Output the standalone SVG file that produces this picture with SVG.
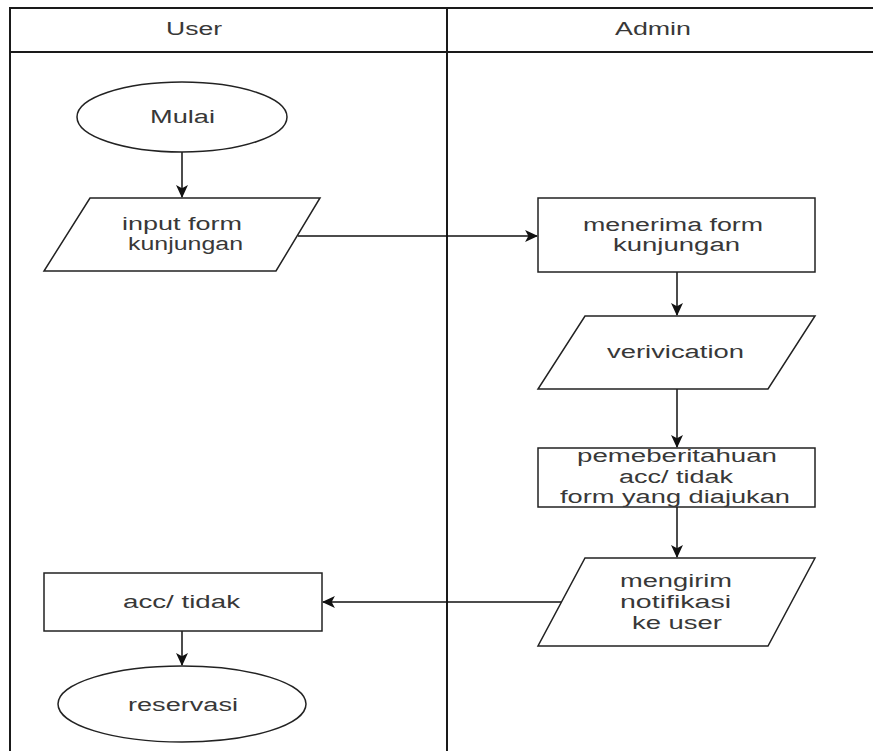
<svg xmlns="http://www.w3.org/2000/svg" width="873" height="751" viewBox="0 0 873 751">
<style>
.lane{fill:none;stroke:#1a1a1a;stroke-width:2}
.shape{fill:#fff;stroke:#222;stroke-width:1.5}
.t{font-family:"Liberation Sans",Arial,sans-serif;font-size:18px;fill:#383838}
.edge{fill:none;stroke:#111;stroke-width:1.5}
</style>
<defs>
<marker id="arr" viewBox="0 0 12 12" refX="11" refY="6" markerWidth="13" markerHeight="13" markerUnits="userSpaceOnUse" orient="auto">
<path d="M0,0.5 L12,6 L0,11.5 L3,6 z" fill="#111"/>
</marker>
</defs>
<g id="lanes">
<path class="lane" d="M10,751 V8 H873 M10,52 H873 M447,8 V751"/>
<text class="t" x="166" y="35" textLength="56" lengthAdjust="spacingAndGlyphs">User</text>
<text class="t" x="615" y="35" textLength="76" lengthAdjust="spacingAndGlyphs">Admin</text>
</g>
<g id="connectors">
<path class="edge" d="M182,152 V197" marker-end="url(#arr)"/>
<path class="edge" d="M298,236 H537" marker-end="url(#arr)"/>
<path class="edge" d="M677,272 V315" marker-end="url(#arr)"/>
<path class="edge" d="M677,389 V447" marker-end="url(#arr)"/>
<path class="edge" d="M677,507 V557" marker-end="url(#arr)"/>
<path class="edge" d="M562,602 H323" marker-end="url(#arr)"/>
<path class="edge" d="M182,631 V665" marker-end="url(#arr)"/>
</g>
<g id="mulai">
<ellipse class="shape" cx="182" cy="117" rx="105" ry="35"/>
<text class="t" x="150" y="123" textLength="65" lengthAdjust="spacingAndGlyphs">Mulai</text>
</g>
<g id="input">
<path class="shape" d="M90,198 H320 L276,271 H44 Z"/>
<text class="t" x="122" y="230" textLength="120" lengthAdjust="spacingAndGlyphs">input form</text>
<text class="t" x="128" y="250" textLength="115" lengthAdjust="spacingAndGlyphs">kunjungan</text>
</g>
<g id="menerima">
<rect class="shape" x="538" y="198" width="277" height="74"/>
<text class="t" x="583" y="231" textLength="180" lengthAdjust="spacingAndGlyphs">menerima form</text>
<text class="t" x="613" y="251" textLength="127" lengthAdjust="spacingAndGlyphs">kunjungan</text>
</g>
<g id="verivication">
<path class="shape" d="M585,316 H815 L768,389 H538 Z"/>
<text class="t" x="607" y="358" textLength="137" lengthAdjust="spacingAndGlyphs">verivication</text>
</g>
<g id="pemberitahuan">
<rect class="shape" x="538" y="448" width="277" height="59"/>
<text class="t" x="577" y="462" textLength="200" lengthAdjust="spacingAndGlyphs">pemeberitahuan</text>
<text class="t" x="619" y="483" textLength="114" lengthAdjust="spacingAndGlyphs">acc/ tidak</text>
<text class="t" x="560" y="503" textLength="230" lengthAdjust="spacingAndGlyphs">form yang diajukan</text>
</g>
<g id="mengirim">
<path class="shape" d="M585,558 H815 L768,646 H538 Z"/>
<text class="t" x="620" y="587" textLength="112" lengthAdjust="spacingAndGlyphs">mengirim</text>
<text class="t" x="620" y="608" textLength="111" lengthAdjust="spacingAndGlyphs">notifikasi</text>
<text class="t" x="632" y="629" textLength="90" lengthAdjust="spacingAndGlyphs">ke user</text>
</g>
<g id="acc">
<rect class="shape" x="44" y="573" width="278" height="58"/>
<text class="t" x="123" y="608" textLength="117" lengthAdjust="spacingAndGlyphs">acc/ tidak</text>
</g>
<g id="reservasi">
<ellipse class="shape" cx="182" cy="704" rx="124" ry="38"/>
<text class="t" x="128" y="711" textLength="110" lengthAdjust="spacingAndGlyphs">reservasi</text>
</g>
</svg>
